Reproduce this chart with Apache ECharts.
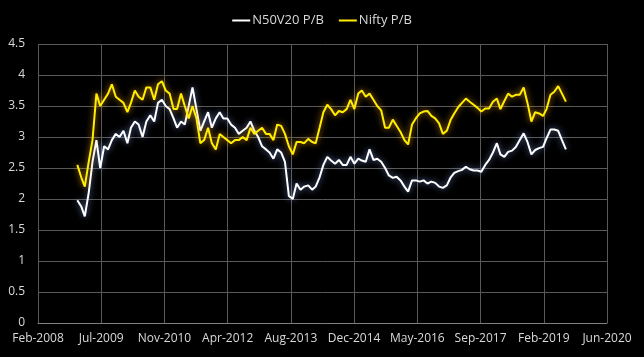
<!DOCTYPE html>
<html>
<head>
<meta charset="utf-8">
<script src="https://cdn.jsdelivr.net/npm/echarts@6/dist/echarts.min.js"></script>
<style>
html,body{margin:0;padding:0;background:#000;}
#chart{width:644px;height:357px;}
</style>
</head>
<body>
<div id="chart"></div>
<script>
// Monthly observations (first of month)
const months = [
"2009-01","2009-02","2009-03","2009-04","2009-05","2009-06","2009-07","2009-08","2009-09","2009-10","2009-11","2009-12",
"2010-01","2010-02","2010-03","2010-04","2010-05","2010-06","2010-07","2010-08","2010-09","2010-10","2010-11","2010-12",
"2011-01","2011-02","2011-03","2011-04","2011-05","2011-06","2011-07","2011-08","2011-09","2011-10","2011-11","2011-12",
"2012-01","2012-02","2012-03","2012-04","2012-05","2012-06","2012-07","2012-08","2012-09","2012-10","2012-11","2012-12",
"2013-01","2013-02","2013-03","2013-04","2013-05","2013-06","2013-07","2013-08","2013-09","2013-10","2013-11","2013-12",
"2014-01","2014-02","2014-03","2014-04","2014-05","2014-06","2014-07","2014-08","2014-09","2014-10","2014-11","2014-12",
"2015-01","2015-02","2015-03","2015-04","2015-05","2015-06","2015-07","2015-08","2015-09","2015-10","2015-11","2015-12",
"2016-01","2016-02","2016-03","2016-04","2016-05","2016-06","2016-07","2016-08","2016-09","2016-10","2016-11","2016-12",
"2017-01","2017-02","2017-03","2017-04","2017-05","2017-06","2017-07","2017-08","2017-09","2017-10","2017-11","2017-12",
"2018-01","2018-02","2018-03","2018-04","2018-05","2018-06","2018-07","2018-08","2018-09","2018-10","2018-11","2018-12",
"2019-01","2019-02","2019-03","2019-04","2019-05","2019-06","2019-07","2019-08"
];

const n50v20PB = [
1.98,1.88,1.72,2.10,2.60,2.95,2.50,2.85,2.80,2.95,3.05,3.00,
3.10,2.90,3.15,3.25,3.20,3.00,3.25,3.35,3.25,3.55,3.60,3.50,
3.45,3.30,3.15,3.25,3.20,3.50,3.80,3.45,3.10,3.25,3.40,3.15,
3.30,3.40,3.30,3.30,3.20,3.15,3.05,3.10,3.15,3.25,3.10,3.00,
2.85,2.80,2.75,2.65,2.80,2.75,2.60,2.05,2.00,2.25,2.15,2.20,
2.22,2.15,2.20,2.35,2.55,2.68,2.62,2.57,2.63,2.55,2.55,2.68,
2.57,2.65,2.62,2.60,2.80,2.63,2.65,2.60,2.50,2.38,2.34,2.36,
2.30,2.20,2.12,2.30,2.30,2.28,2.30,2.25,2.28,2.26,2.20,2.18,
2.22,2.35,2.42,2.45,2.47,2.52,2.48,2.46,2.46,2.44,2.55,2.63,
2.75,2.90,2.72,2.68,2.76,2.78,2.84,2.95,3.06,2.92,2.72,2.79,
2.82,2.84,2.98,3.12,3.12,3.10,2.95,2.80
];

const niftyPB = [
2.55,2.35,2.20,2.60,2.95,3.70,3.50,3.60,3.70,3.85,3.65,3.60,
3.55,3.40,3.55,3.75,3.65,3.60,3.80,3.80,3.60,3.85,3.90,3.75,
3.70,3.45,3.45,3.70,3.50,3.30,3.50,3.30,2.90,2.95,3.15,2.90,
2.80,3.05,3.00,2.95,2.90,2.95,2.95,3.00,2.95,3.15,3.05,3.10,
3.15,3.05,3.05,2.95,3.20,3.18,3.05,2.85,2.72,2.92,2.92,2.90,
2.97,2.92,2.90,3.15,3.40,3.52,3.45,3.35,3.42,3.40,3.45,3.60,
3.45,3.70,3.75,3.65,3.70,3.60,3.50,3.43,3.15,3.15,3.28,3.18,
3.08,2.95,2.88,3.20,3.30,3.38,3.41,3.42,3.34,3.30,3.22,3.05,
3.10,3.28,3.38,3.48,3.55,3.62,3.57,3.52,3.47,3.41,3.46,3.46,
3.57,3.62,3.45,3.58,3.70,3.65,3.68,3.68,3.80,3.55,3.25,3.40,
3.38,3.34,3.45,3.68,3.73,3.82,3.70,3.57
];

const seriesNames = ["N50V20 P/B", "Nifty P/B"];
const yTicks = [0, 0.5, 1, 1.5, 2, 2.5, 3, 3.5, 4, 4.5];
// Excel-style date axis: origin and 500-day major unit
const axisOrigin = "2008-02-25";
const axisUnitDays = 500;
const axisTickCount = 9;
const monthNames = ["Jan","Feb","Mar","Apr","May","Jun","Jul","Aug","Sep","Oct","Nov","Dec"];

const DAY = 86400000;
const originMs = Date.parse(axisOrigin + "T00:00:00Z");
function dayOffset(ym){ return (Date.parse(ym + "-01T00:00:00Z") - originMs) / DAY; }
function fmtDay(v){
  const d = new Date(originMs + v * DAY);
  return monthNames[d.getUTCMonth()] + "-" + d.getUTCFullYear();
}

const white = months.map((m,i)=>[dayOffset(m), n50v20PB[i]]);
const yellow = months.map((m,i)=>[dayOffset(m), niftyPB[i]]);

const chart = echarts.init(document.getElementById('chart'), null, {renderer:'canvas'});
const labelFont = {color:'#d9d9d9', fontFamily:'Open Sans', fontSize:12};
chart.setOption({
  backgroundColor:'#000',
  animation:false,
  legend:{
    top:9, left:'center',
    itemWidth:18, itemHeight:2, itemGap:15,
    icon:'rect',
    textStyle:{color:'#d9d9d9', fontFamily:'Open Sans', fontSize:13, padding:[0,0,0,-3]},
    data:seriesNames
  },
  grid:{left:38, right:37, top:44, bottom:34, containLabel:false},
  xAxis:{
    type:'value', min:0, max:axisUnitDays*axisTickCount, interval:axisUnitDays,
    axisLine:{show:true, lineStyle:{color:'#7f7f7f'}},
    axisTick:{show:false},
    splitLine:{show:true, lineStyle:{color:'#595959', width:1}},
    axisLabel:Object.assign({margin:10, formatter:fmtDay, showMinLabel:true, showMaxLabel:true}, labelFont)
  },
  yAxis:{
    type:'value', min:yTicks[0], max:yTicks[yTicks.length-1], interval:0.5,
    axisLine:{show:false}, axisTick:{show:false},
    splitLine:{show:true, lineStyle:{color:'#595959', width:1}},
    axisLabel:Object.assign({margin:13}, labelFont)
  },
  series:[
    {name:seriesNames[0], type:'line', data:white, showSymbol:false, symbol:'none',
     color:'#ffffff',
     lineStyle:{color:'#ffffff', width:2, shadowColor:'rgba(140,170,255,0.7)', shadowBlur:6}},
    {name:seriesNames[1], type:'line', data:yellow, showSymbol:false, symbol:'none',
     color:'#ffee00',
     lineStyle:{color:'#ffee00', width:2, shadowColor:'rgba(255,170,0,0.8)', shadowBlur:6}}
  ]
});
</script>
</body>
</html>
